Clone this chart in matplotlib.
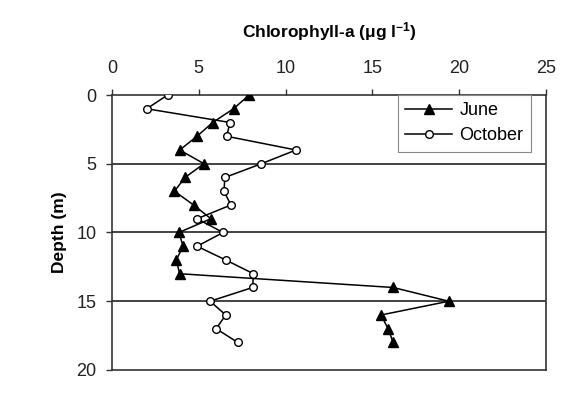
import matplotlib
matplotlib.use("Agg")
import matplotlib.pyplot as plt

plt.rcParams['font.family'] = ['Liberation Sans', 'DejaVu Sans']
plt.rcParams['mathtext.fontset'] = 'custom'
plt.rcParams['mathtext.rm'] = 'Liberation Sans:bold'
plt.rcParams['mathtext.bf'] = 'Liberation Sans:bold'
plt.rcParams['mathtext.default'] = 'bf'

# data
depth = list(range(19))
june = [7.9, 7.0, 5.8, 4.9, 3.9, 5.3, 4.2, 3.6, 4.7, 5.7,
        3.85, 4.1, 3.7, 3.9, 16.2, 19.4, 15.5, 15.9, 16.2]
october = [3.2, 2.0, 6.8, 6.6, 10.6, 8.6, 6.5, 6.45, 6.85, 4.9,
           6.4, 4.9, 6.55, 8.15, 8.1, 5.65, 6.55, 6.0, 7.25]
xticks = [0, 5, 10, 15, 20, 25]
yticks = [0, 5, 10, 15, 20]

fig = plt.figure(figsize=(5.77, 3.98), dpi=100)
ax = fig.add_axes([0.1941, 0.0704, 0.7522, 0.6909])

ax.plot(june, depth, color='black', lw=1.1, marker='^', ms=7.5,
        mfc='black', mec='black', label='June', zorder=3)
ax.plot(october, depth, color='black', lw=1.1, marker='o', ms=5.5,
        mfc='white', mec='black', mew=1.0, label='October', zorder=3)

ax.set_xlim(0, 25)
ax.set_ylim(20, 0)
ax.set_xticks(xticks)
ax.set_yticks(yticks)
ax.xaxis.tick_top()
ax.xaxis.set_label_position('top')
ax.tick_params(direction='out', length=4, width=1, labelsize=13,
               colors='#333333', labelcolor='#222222')
ax.tick_params(axis='x', pad=9)
ax.tick_params(axis='y', pad=7)

for s in ax.spines.values():
    s.set_color('#333333')
    s.set_linewidth(1.2)

for d in [5, 10, 15]:
    ax.axhline(d, color='#222222', lw=1.2, zorder=1)

ax.set_xlabel('Chlorophyll-a (μg l$^{-1}$)', fontsize=12.5, fontweight='bold',
              labelpad=16)
ax.set_ylabel('Depth (m)', fontsize=12.5, fontweight='bold', labelpad=7)

leg = ax.legend(loc='upper left', bbox_to_anchor=(0.659, 1.0),
                borderaxespad=0, fontsize=13, fancybox=False,
                framealpha=1, edgecolor='#888888', handlelength=2.6,
                handletextpad=0.4, borderpad=0.4, labelspacing=0.45)
leg.get_frame().set_linewidth(0.8)
leg.set_zorder(5)

fig.savefig('out.png', dpi=100)
